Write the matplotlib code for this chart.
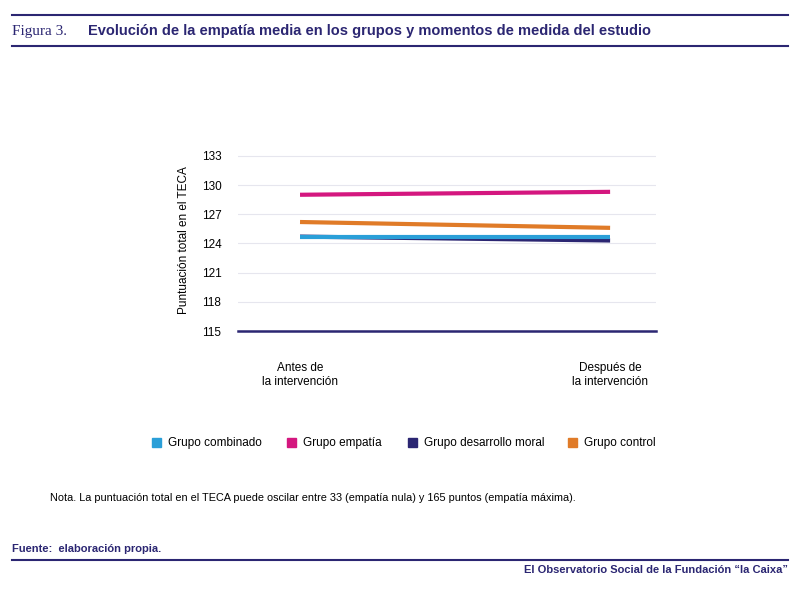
import matplotlib.pyplot as plt
from matplotlib.lines import Line2D

plt.rcParams['font.family'] = ['Liberation Sans', 'DejaVu Sans']

momentos = ["Antes de\nla intervención", "Después de\nla intervención"]
grupos = ["Grupo combinado", "Grupo empatía", "Grupo desarrollo moral", "Grupo control"]
colores = ["#2a9fd8", "#d4177f", "#2b2672", "#e07b28"]
combinado = [124.7, 124.7]
empatia = [129.0, 129.3]
desarrollo = [124.7, 124.3]
control = [126.2, 125.6]
series = [combinado, empatia, desarrollo, control]
yticks = [115, 118, 121, 124, 127, 130, 133]

fig = plt.figure(figsize=(8, 5.91), dpi=100)
W, H = 800, 591

# cabecera
fig.add_artist(Line2D([12/W, 788/W], [1-15/H, 1-15/H], color="#2b2672", lw=1.5))
fig.add_artist(Line2D([12/W, 788/W], [1-46/H, 1-46/H], color="#2b2672", lw=1.5))
fig.text(12/W, 1-31/H, "Figura 3.", family="Liberation Serif", fontsize=11, color="#2b2672", va="center")
fig.text(88/W, 1-31/H, "Evolución de la empatía media en los grupos y momentos de medida del estudio",
         fontsize=10.5, fontweight="bold", color="#2b2672", va="center")

ax = fig.add_axes([238/W, 1-331/H, (656-238)/W, (331-150)/H])
x = [0, 1]
# orden de dibujo: navy debajo del azul
for i in [2, 0, 3, 1]:
    ax.plot(x, series[i], color=colores[i], lw=3, solid_capstyle="butt")
ax.set_xlim(-0.2, 1.148)
ax.set_ylim(115, 133.6)
ax.set_yticks(yticks)
ax.tick_params(axis="y", length=0, labelsize=8.5, pad=12)
ax.set_xticks([])
ax.grid(axis="y", color="#e6e6ee", lw=0.8)
for sp in ["top", "right", "left"]:
    ax.spines[sp].set_visible(False)
ax.spines["bottom"].set_color("#2b2672")
ax.spines["bottom"].set_linewidth(1.8)
ax.set_ylabel("Puntuación total en el TECA", fontsize=8.5, labelpad=8)
for xi, lab in zip(x, momentos):
    ax.text(xi, -0.17, lab, transform=ax.get_xaxis_transform(), ha="center", va="top", fontsize=8.5)

# leyenda
leg_x = [152, 287, 408, 568]
for px, g, c in zip(leg_x, grupos, colores):
    fig.patches.append(plt.Rectangle((px/W, 1-447/H), 9/W, 9/H, color=c, transform=fig.transFigure))
    fig.text((px+16)/W, 1-443/H, g, fontsize=8.5, va="center")

fig.text(50/W, 1-498/H, "Nota. La puntuación total en el TECA puede oscilar entre 33 (empatía nula) y 165 puntos (empatía máxima).",
         fontsize=7.8, va="center")

fig.text(12/W, 1-549/H, "Fuente:  elaboración propia.", fontsize=8, fontweight="bold", color="#2b2672", va="center")
fig.add_artist(Line2D([12/W, 788/W], [1-560/H, 1-560/H], color="#2b2672", lw=1.5))
fig.text(788/W, 1-570/H, "El Observatorio Social de la Fundación “la Caixa”", fontsize=8, fontweight="bold",
         color="#2b2672", ha="right", va="center")

fig.savefig("out.png", dpi=100)
